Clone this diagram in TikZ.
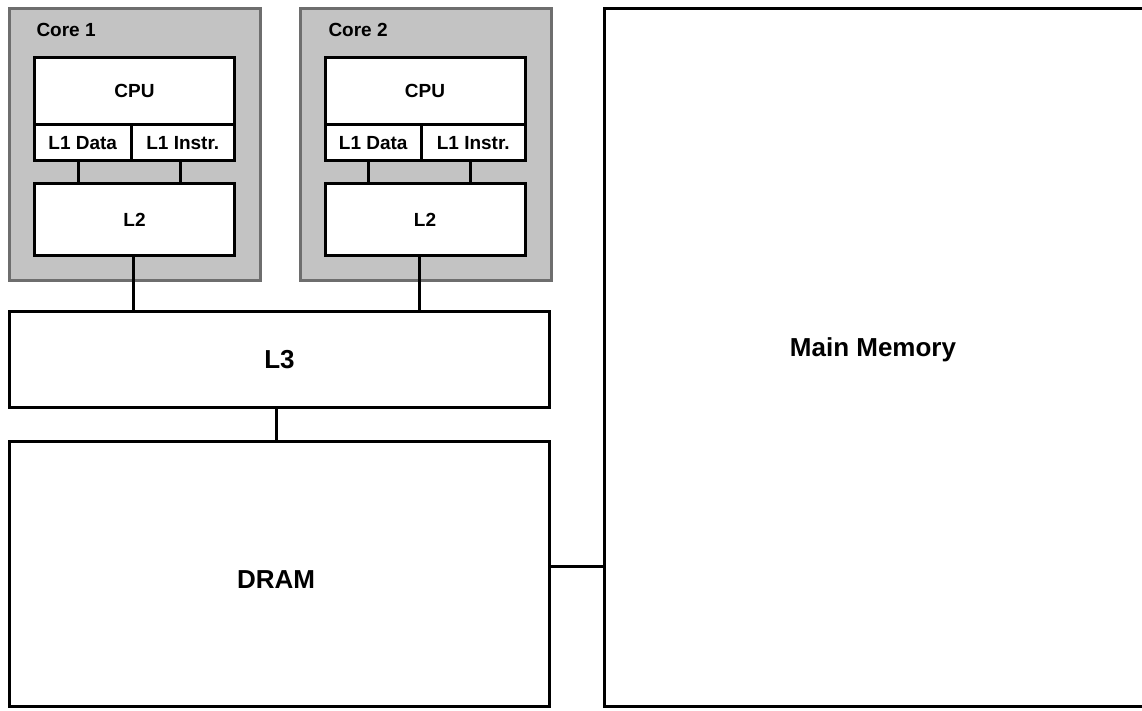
\documentclass[tikz,border=0pt]{standalone}
\usepackage{fontspec}
\setmainfont{Liberation Sans}
\usetikzlibrary{calc}
\definecolor{coregray}{HTML}{C3C3C3}
\definecolor{coreedge}{HTML}{6E6E6E}
\begin{document}
\begin{tikzpicture}[x=1pt,y=-1pt,line width=3pt,
  box/.style={draw=black,fill=white,rectangle,inner sep=0pt,font=\fontsize{19}{22}\selectfont\bfseries},
  bigbox/.style={draw=black,fill=white,rectangle,inner sep=0pt,font=\fontsize{26}{30}\selectfont\bfseries},
  biglbl/.style={inner sep=0pt,font=\fontsize{26}{30}\selectfont\bfseries},
  corebox/.style={draw=coreedge,fill=coregray,rectangle,inner sep=0pt},
  corelbl/.style={anchor=west,inner sep=0pt,font=\fontsize{19}{22}\selectfont\bfseries},
  wire/.style={draw=black,line width=3pt}]
\useasboundingbox (0,0) rectangle (1142,711);
\clip (0,0) rectangle (1142,711);
\fill[white] (0,0) rectangle (1142,711);

% Core 1
\node[corebox,minimum width=251pt,minimum height=272pt] (core1) at (135,144.5) {};
\node[corelbl] (core1lbl) at (35,30) {Core 1};
\node[box,minimum width=200pt,minimum height=67.5pt] (cpu1) at (134.5,91.25) {CPU};
\node[box,minimum width=96.5pt,minimum height=35.5pt] (l1d1) at (82.75,142.75) {L1 Data};
\node[box,minimum width=103.5pt,minimum height=35.5pt] (l1i1) at (182.75,142.75) {L1 Instr.};
\node[box,minimum width=200pt,minimum height=72pt] (l21) at (134.5,219.5) {L2};

% Core 2
\node[corebox,minimum width=251pt,minimum height=272pt] (core2) at (425.5,144.5) {};
\node[corelbl] (core2lbl) at (327,30) {Core 2};
\node[box,minimum width=200pt,minimum height=67.5pt] (cpu2) at (425,91.25) {CPU};
\node[box,minimum width=96.5pt,minimum height=35.5pt] (l1d2) at (373.25,142.75) {L1 Data};
\node[box,minimum width=103.5pt,minimum height=35.5pt] (l1i2) at (473.25,142.75) {L1 Instr.};
\node[box,minimum width=200pt,minimum height=72pt] (l22) at (425,219.5) {L2};

% Shared
\node[bigbox,minimum width=540pt,minimum height=96pt] (l3) at (279.5,359.5) {L3};
\node[bigbox,minimum width=540pt,minimum height=265pt] (dram) at (279.5,574) {};
\node[biglbl] (dramlbl) at (276,580) {DRAM};
\node[bigbox,minimum width=560pt,minimum height=698pt] (mem) at (884.5,357.5) {};
\node[biglbl] (memlbl) at (873,350) {Main Memory};

% connectors
\coordinate (c1a) at (78,0);
\coordinate (c1b) at (180,0);
\coordinate (c2a) at (368,0);
\coordinate (c2b) at (470,0);
\draw[wire] (l1d1.south -| c1a) -- (l21.north -| c1a);
\draw[wire] (l1i1.south -| c1b) -- (l21.north -| c1b);
\draw[wire] (l1d2.south -| c2a) -- (l22.north -| c2a);
\draw[wire] (l1i2.south -| c2b) -- (l22.north -| c2b);
\coordinate (k1) at (133,0);
\coordinate (k2) at (419,0);
\coordinate (k3) at (276,0);
\coordinate (k4) at (0,566);
\draw[wire] (l21.south -| k1) -- (l3.north -| k1);
\draw[wire] (l22.south -| k2) -- (l3.north -| k2);
\draw[wire] (l3.south -| k3) -- (dram.north -| k3);
\draw[wire] (dram.east |- k4) -- (mem.west |- k4);
\end{tikzpicture}
\end{document}
